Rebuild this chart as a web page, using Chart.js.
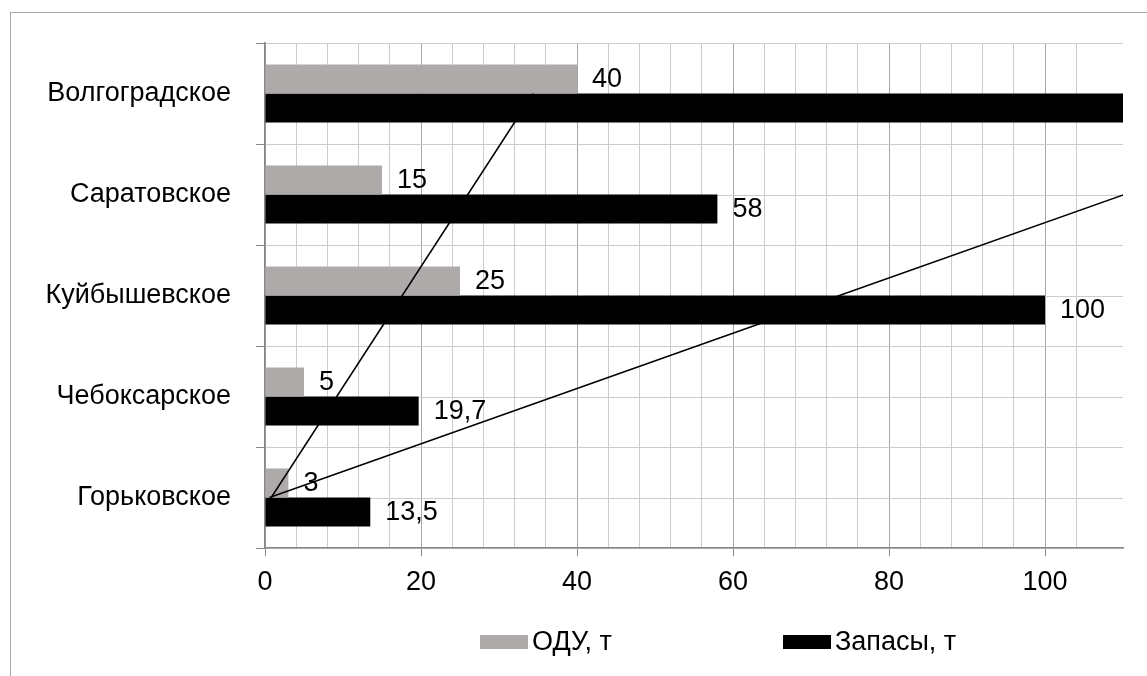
<!DOCTYPE html>
<html>
<head>
<meta charset="utf-8">
<script src="https://cdn.jsdelivr.net/npm/chart.js@4/dist/chart.umd.min.js"></script>
<style>
  body { margin: 0; background: #fff; overflow: hidden; }
  #frame { position: absolute; left: 10px; top: 12px; width: 1200px; height: 700px; border: 1px solid #a6a6a6; }
  #chart { position: absolute; left: 0; top: 0; }
</style>
</head>
<body>
<div id="frame"></div>
<canvas id="chart" width="1147" height="676"></canvas>
<script>
'use strict';

// data, top to bottom as in the picture
var categories = ['Волгоградское', 'Саратовское', 'Куйбышевское', 'Чебоксарское', 'Горьковское'];
var oduValues = [40, 15, 25, 5, 3];
var zapasyValues = [177, 58, 100, 19.7, 13.5]; // first bar runs off the axis
var seriesNames = ['ОДУ, т', 'Запасы, т'];
var labeledTicks = [0, 20, 40, 60, 80, 100];
var axisMax = 110;

var FONT = "'Liberation Sans', Arial, sans-serif";
var FSIZE = 27;
var GRAY = '#aeaaaa';
var AXIS = '#868686';
var GRID_MINOR = '#cccccc';
var GRID_MAJOR = '#a6a6a6';

// excel style linear trendline, fitted value for each category
function linFit(vals) {
  var n = vals.length, mx = (n - 1) / 2, my = 0, sxy = 0, sxx = 0;
  vals.forEach(function (v) { my += v / n; });
  vals.forEach(function (v, i) { sxy += (i - mx) * (v - my); sxx += (i - mx) * (i - mx); });
  var b = sxy / sxx;
  return vals.map(function (v, i) { return my + b * (i - mx); });
}

// horizontal grid lines through the middle of each category
var midLines = {
  id: 'midLines',
  beforeDatasetsDraw: function (chart) {
    var ctx = chart.ctx, a = chart.chartArea, y = chart.scales.y;
    ctx.save();
    ctx.strokeStyle = GRID_MINOR;
    ctx.lineWidth = 1;
    categories.forEach(function (c, i) {
      var py = Math.round(y.getPixelForValue(i)) + 0.5;
      ctx.beginPath();
      ctx.moveTo(a.left, py);
      ctx.lineTo(a.right, py);
      ctx.stroke();
    });
    ctx.restore();
  }
};

// value labels after the bar ends
var barLabels = {
  id: 'barLabels',
  afterDatasetsDraw: function (chart) {
    var ctx = chart.ctx;
    ctx.save();
    ctx.font = FSIZE + 'px ' + FONT;
    ctx.fillStyle = '#000';
    ctx.textAlign = 'left';
    ctx.textBaseline = 'middle';
    chart.data.datasets.forEach(function (ds, di) {
      if (ds.type !== 'bar') return;
      chart.getDatasetMeta(di).data.forEach(function (el, i) {
        var v = ds.data[i];
        if (v > axisMax) return;
        ctx.fillText(String(v).replace('.', ','), el.x + 15, el.y + 1);
      });
    });
    ctx.restore();
  }
};

// legend drawn like excel: small gap between box and text
var excelLegend = {
  id: 'excelLegend',
  afterDraw: function (chart) {
    var ctx = chart.ctx;
    var x0 = 480, slot = 303, y = 642;
    ctx.save();
    ctx.font = FSIZE + 'px ' + FONT;
    ctx.textBaseline = 'middle';
    ctx.textAlign = 'left';
    chart.data.datasets.forEach(function (ds, di) {
      if (ds.type !== 'bar') return;
      var x = x0 + di * slot;
      ctx.fillStyle = ds.backgroundColor;
      ctx.fillRect(x, y - 7, 48, 14);
      ctx.fillStyle = '#000';
      ctx.fillText(ds.label, x + 52, y + 1);
    });
    ctx.restore();
  }
};

var ctx = document.getElementById('chart').getContext('2d');
var chart = new Chart(ctx, {
  type: 'bar',
  data: {
    labels: categories,
    datasets: [{
      type: 'bar',
      label: seriesNames[0],
      data: oduValues,
      backgroundColor: GRAY,
      indexAxis: 'y',
      order: 2
    }, {
      type: 'bar',
      label: seriesNames[1],
      data: zapasyValues,
      backgroundColor: '#000000',
      indexAxis: 'y',
      order: 2
    }, {
      type: 'line',
      label: 'trend ODU',
      data: linFit(oduValues),
      borderColor: '#000',
      borderWidth: 1.5,
      pointRadius: 0,
      indexAxis: 'y',
      order: 1
    }, {
      type: 'line',
      label: 'trend zapasy',
      data: linFit(zapasyValues),
      borderColor: '#000',
      borderWidth: 1.5,
      pointRadius: 0,
      indexAxis: 'y',
      order: 1
    }]
  },
  options: {
    indexAxis: 'y',
    responsive: false,
    animation: false,
    devicePixelRatio: 1,
    datasets: {
      bar: { barPercentage: 1, categoryPercentage: 0.575 }
    },
    layout: { padding: { top: 43, right: 24, left: 0, bottom: 68 } },
    plugins: {
      legend: { display: false },
      tooltip: { enabled: false }
    },
    scales: {
      x: {
        type: 'linear',
        min: 0,
        max: axisMax,
        afterFit: function (s) { s.height = 60; },
        border: { color: AXIS, width: 1.5 },
        grid: {
          tickLength: 8,
          color: function (c) {
            var v = c.tick.value;
            if (v % 4 !== 0) return 'rgba(0,0,0,0)';
            return v % 20 === 0 ? GRID_MAJOR : GRID_MINOR;
          },
          tickColor: function (c) {
            return labeledTicks.indexOf(c.tick.value) >= 0 ? AXIS : 'rgba(0,0,0,0)';
          }
        },
        ticks: {
          stepSize: 4,
          autoSkip: false,
          maxRotation: 0,
          padding: 10,
          color: '#000',
          font: { family: FONT, size: FSIZE },
          callback: function (v) { return labeledTicks.indexOf(v) >= 0 ? v : ''; }
        }
      },
      y: {
        type: 'category',
        afterFit: function (s) { s.width = 265; },
        border: { color: AXIS, width: 1.5 },
        grid: { color: GRID_MINOR, tickColor: AXIS, tickLength: 9 },
        ticks: {
          padding: 25,
          color: '#000',
          font: { family: FONT, size: FSIZE }
        }
      }
    }
  },
  plugins: [midLines, barLabels, excelLegend]
});
</script>
</body>
</html>
